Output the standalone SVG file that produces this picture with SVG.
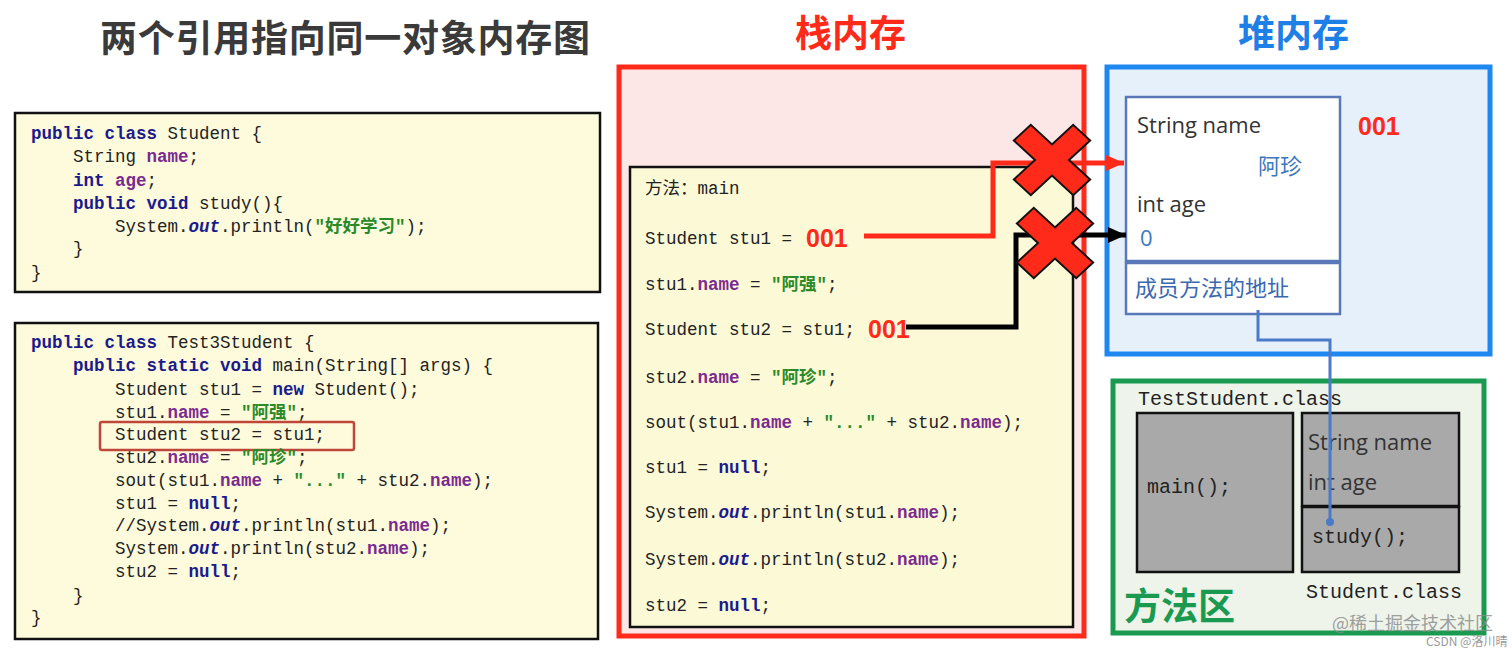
<svg xmlns="http://www.w3.org/2000/svg" width="1512" height="653" viewBox="0 0 1512 653">
<style>
.code{font-family:"Liberation Mono","Noto Sans CJK SC",monospace;font-size:17.5px;fill:#222}
.kw{fill:#1a1a8c;font-weight:bold}
.fld{fill:#7b2a8f;font-weight:bold}
.str{fill:#2a8a2a;font-weight:bold}
.it{fill:#1a1a8c;font-weight:bold;font-style:italic}
.cjkT{font-family:"Noto Sans CJK SC",sans-serif;font-weight:bold;font-size:37px}
.sans{font-family:"Open Sans","Noto Sans CJK SC",sans-serif;font-size:22px;fill:#333}
.num{font-family:"Liberation Sans",sans-serif;font-weight:bold;font-size:25px;fill:#ff2a1a}
.codebox{fill:#fdfbdc;stroke:#111;stroke-width:2.5}
.gray{fill:#a9a9a9;stroke:#111;stroke-width:2.5}
.cross{fill:#ff2a1a;stroke:#111;stroke-width:2}
</style>
<defs>
<marker id="arR" markerUnits="userSpaceOnUse" markerWidth="20" markerHeight="16" refX="18" refY="8" orient="auto"><path d="M0,0 L18,8 L0,16 Z" fill="#ff2a1a"/></marker>
<marker id="arK" markerUnits="userSpaceOnUse" markerWidth="20" markerHeight="16" refX="18" refY="8" orient="auto"><path d="M0,0 L18,8 L0,16 Z" fill="#000"/></marker>
<polygon id="xshape" points="-12,-42 12,-42 12,-12 42,-12 42,12 12,12 12,42 -12,42 -12,12 -42,12 -42,-12 -12,-12"/>
</defs>
<rect width="1512" height="653" fill="#fff"/>

<g id="title">
<text class="cjkT" x="100" y="52" fill="#3a3a3a" textLength="490">两个引用指向同一对象内存图</text>
</g>

<g id="code-student">
<rect class="codebox" x="15" y="113" width="585" height="179"/>
<text class="code" x="31" y="139"><tspan class="kw">public class</tspan> Student {</text>
<text class="code" x="73" y="162">String <tspan class="fld">name</tspan>;</text>
<text class="code" x="73" y="186"><tspan class="kw">int</tspan> <tspan class="fld">age</tspan>;</text>
<text class="code" x="73" y="209"><tspan class="kw">public void</tspan> study(){</text>
<text class="code" x="115" y="232">System.<tspan class="it">out</tspan>.println(<tspan class="str">"好好学习"</tspan>);</text>
<text class="code" x="73" y="254">}</text>
<text class="code" x="31" y="278">}</text>
</g>

<g id="code-test">
<rect class="codebox" x="15" y="323" width="583" height="316"/>
<rect x="100" y="422" width="254" height="28" rx="2" fill="none" stroke="#c0463a" stroke-width="2.5"/>
<text class="code" x="31" y="348"><tspan class="kw">public class</tspan> Test3Student {</text>
<text class="code" x="73" y="371"><tspan class="kw">public static void</tspan> main(String[] args) {</text>
<text class="code" x="115" y="395">Student stu1 = <tspan class="kw">new</tspan> Student();</text>
<text class="code" x="115" y="418">stu1.<tspan class="fld">name</tspan> = <tspan class="str">"阿强"</tspan>;</text>
<text class="code" x="115" y="440">Student stu2 = stu1;</text>
<text class="code" x="115" y="463">stu2.<tspan class="fld">name</tspan> = <tspan class="str">"阿珍"</tspan>;</text>
<text class="code" x="115" y="486">sout(stu1.<tspan class="fld">name</tspan> + <tspan class="str">"..."</tspan> + stu2.<tspan class="fld">name</tspan>);</text>
<text class="code" x="115" y="509">stu1 = <tspan class="kw">null</tspan>;</text>
<text class="code" x="115" y="531">//System.<tspan class="it">out</tspan>.println(stu1.<tspan class="fld">name</tspan>);</text>
<text class="code" x="115" y="554">System.<tspan class="it">out</tspan>.println(stu2.<tspan class="fld">name</tspan>);</text>
<text class="code" x="115" y="577">stu2 = <tspan class="kw">null</tspan>;</text>
<text class="code" x="73" y="601">}</text>
<text class="code" x="31" y="623">}</text>
</g>

<g id="stack">
<text class="cjkT" x="795" y="47" fill="#ff2a1a">栈内存</text>
<rect x="619" y="67" width="465" height="569" fill="#fde6e6" stroke="#ff2a1a" stroke-width="5"/>
<rect x="630" y="167" width="443" height="460" fill="#fcf9d6" stroke="#111" stroke-width="2.5"/>
<text class="code" x="645" y="194">方法：main</text>
<text class="code" x="645" y="244">Student stu1 = </text>
<text class="num" x="806" y="247">001</text>
<text class="code" x="645" y="290">stu1.<tspan class="fld">name</tspan> = <tspan class="str">"阿强"</tspan>;</text>
<text class="code" x="645" y="335">Student stu2 = stu1;</text>
<text class="num" x="868" y="338">001</text>
<text class="code" x="645" y="383">stu2.<tspan class="fld">name</tspan> = <tspan class="str">"阿珍"</tspan>;</text>
<text class="code" x="645" y="428">sout(stu1.<tspan class="fld">name</tspan> + <tspan class="str">"..."</tspan> + stu2.<tspan class="fld">name</tspan>);</text>
<text class="code" x="645" y="473">stu1 = <tspan class="kw">null</tspan>;</text>
<text class="code" x="645" y="518">System.<tspan class="it">out</tspan>.println(stu1.<tspan class="fld">name</tspan>);</text>
<text class="code" x="645" y="565">System.<tspan class="it">out</tspan>.println(stu2.<tspan class="fld">name</tspan>);</text>
<text class="code" x="645" y="611">stu2 = <tspan class="kw">null</tspan>;</text>
</g>

<g id="heap">
<text class="cjkT" x="1238" y="47" fill="#1e80e6">堆内存</text>
<rect x="1107" y="67" width="383" height="287" fill="#e6f0fb" stroke="#1e88f0" stroke-width="5"/>
<rect x="1126" y="97" width="214" height="164" fill="#fff" stroke="#5a78b8" stroke-width="2.5"/>
<rect x="1126" y="263" width="214" height="51" fill="#fff" stroke="#5a78b8" stroke-width="2.5"/>
<text class="sans" x="1137" y="133">String name</text>
<text class="sans" x="1258" y="174" style="fill:#3a78c0">阿珍</text>
<text class="sans" x="1137" y="212">int age</text>
<text class="sans" x="1140" y="246" style="fill:#3a78c0">0</text>
<text class="sans" x="1135" y="296" style="fill:#3a68b0">成员方法的地址</text>
<text class="num" x="1358" y="135">001</text>
</g>

<g id="method-area">
<rect x="1113" y="381" width="371" height="252" fill="#eef4ea" stroke="#1a9a50" stroke-width="5"/>
<text class="code" x="1138" y="405" style="font-size:20px">TestStudent.class</text>
<rect class="gray" x="1137" y="413" width="156" height="159"/>
<text class="code" x="1147" y="493" style="font-size:20px">main();</text>
<rect class="gray" x="1302" y="413" width="157" height="93"/>
<rect class="gray" x="1302" y="507" width="157" height="65"/>
<text class="sans" x="1308" y="450">String name</text>
<text class="sans" x="1308" y="490">int age</text>
<text class="code" x="1312" y="543" style="font-size:20px">study();</text>
<text class="code" x="1306" y="598" style="font-size:20px">Student.class</text>
<text class="cjkT" x="1124" y="620" fill="#1a9a50">方法区</text>
</g>

<g id="connectors" fill="none">
<polyline points="864,236 993,236 993,163 1124,163" stroke="#ff2a1a" stroke-width="5" marker-end="url(#arR)"/>
<polyline points="906,327 1016,327 1016,235 1126,235" stroke="#000" stroke-width="5" marker-end="url(#arK)"/>
<polyline points="1258,310 1258,340 1330,340 1330,522" stroke="#4a7ac8" stroke-width="3"/>
<circle cx="1330" cy="522" r="4" fill="#4a7ac8"/>
</g>

<g id="crosses">
<use href="#xshape" class="cross" transform="translate(1052,160) scale(1,0.92) rotate(45)"/>
<use href="#xshape" class="cross" transform="translate(1055,243) scale(1,0.92) rotate(45)"/>
</g>

<g id="watermark" font-family="'Noto Sans CJK SC',sans-serif">
<text x="1332" y="630" font-size="18" fill="#8a8a8a" opacity="0.8">@稀土掘金技术社区</text>
<text x="1426" y="646" font-size="12" fill="#999">CSDN @洛川晴</text>
</g>
</svg>
